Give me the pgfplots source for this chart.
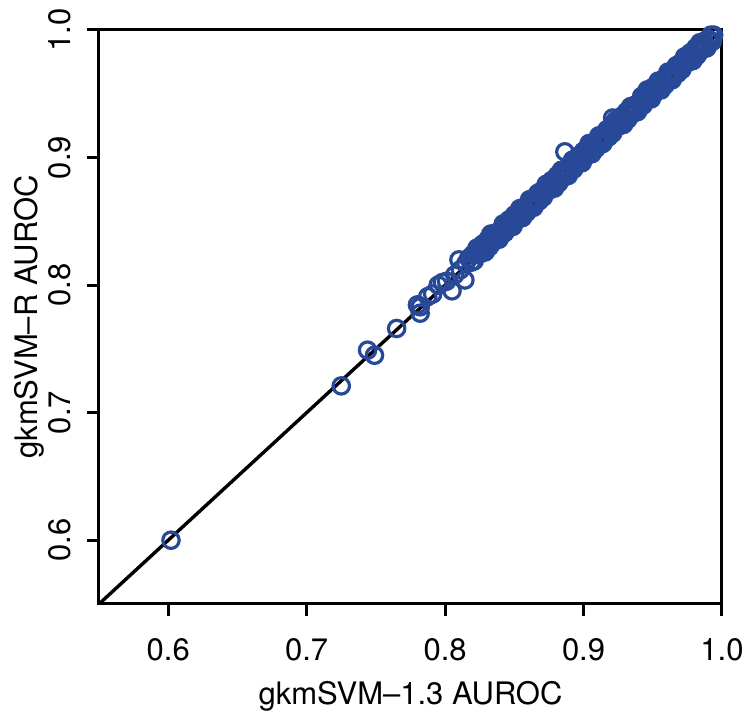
\documentclass[border=0pt]{standalone}
\usepackage{fontspec}
\setmainfont{TeX Gyre Heros}
\usepackage{pgfplots}
\pgfplotsset{compat=1.18}
\definecolor{ptblue}{RGB}{40,72,152}
\newcommand{\lbl}{\fontsize{15.5}{18}\selectfont}
\begin{document}
\begin{tikzpicture}
\begin{axis}[name=ax, scale only axis, width=311.5pt, height=287pt,
  xmin=0.55, xmax=1, ymin=0.55, ymax=1,
  axis line style={line width=1.5pt},
  tick style={line width=1.5pt, black},
  tick align=outside, major tick length=6pt,
  xtick pos=bottom, ytick pos=left,
  xtick={0.6,0.7,0.8,0.9,1.0}, ytick={0.6,0.7,0.8,0.9,1.0},
  xticklabels={0.6,0.7,0.8,0.9,1.0}, yticklabels={0.6,0.7,0.8,0.9,1.0},
  tick label style={font=\lbl, inner sep=0pt},
  xticklabel style={anchor=north},
  yticklabel style={rotate=90, anchor=south},
  xticklabel shift=11pt, yticklabel shift=8pt,
  /pgf/number format/assume math mode=true,
]
\addplot[only marks, mark=o, mark size=4.1pt, mark options={line width=1.6pt, draw=ptblue}]
table[row sep=\\] {x y\\
0.602 0.600\\ 0.725 0.721\\ 0.744 0.749\\ 0.749 0.745\\ 0.765 0.766\\
0.780 0.7845\\ 0.782 0.783\\ 0.782 0.778\\ 0.7875 0.791\\ 0.791 0.793\\
0.795 0.800\\ 0.798 0.802\\ 0.801 0.803\\ 0.805 0.7955\\ 0.807 0.808\\
0.810 0.8198\\ 0.811 0.812\\ 0.8143 0.804\\ 0.815 0.817\\ 0.817 0.821\\ 0.819 0.818\\
0.8865 0.9045\\ 0.921 0.931\\ 0.946 0.953\\ 0.904 0.911\\ 0.833 0.840\\
0.820 0.824\\ 0.821 0.819\\ 0.822 0.824\\ 0.823 0.829\\ 0.824 0.824\\ 0.825 0.828\\ 0.826 0.825\\ 0.827 0.832\\ 0.828 0.829\\ 0.829 0.826\\
0.830 0.831\\ 0.831 0.836\\ 0.832 0.830\\ 0.833 0.836\\ 0.834 0.840\\ 0.835 0.834\\ 0.836 0.838\\ 0.837 0.841\\ 0.838 0.838\\ 0.839 0.836\\
0.840 0.843\\ 0.841 0.841\\ 0.842 0.848\\ 0.843 0.841\\ 0.844 0.848\\ 0.845 0.846\\ 0.846 0.851\\ 0.847 0.846\\ 0.848 0.850\\ 0.849 0.846\\
0.850 0.855\\ 0.851 0.850\\ 0.852 0.855\\ 0.853 0.853\\ 0.854 0.860\\ 0.855 0.857\\ 0.856 0.853\\ 0.857 0.861\\ 0.858 0.859\\ 0.859 0.857\\
0.860 0.862\\ 0.861 0.867\\ 0.862 0.861\\ 0.863 0.867\\ 0.864 0.861\\ 0.865 0.868\\ 0.866 0.866\\ 0.867 0.872\\ 0.868 0.866\\ 0.869 0.870\\
0.870 0.874\\ 0.871 0.869\\ 0.872 0.874\\ 0.873 0.879\\ 0.874 0.874\\ 0.875 0.878\\ 0.876 0.875\\ 0.877 0.882\\ 0.878 0.879\\ 0.879 0.876\\
0.880 0.881\\ 0.881 0.886\\ 0.882 0.880\\ 0.883 0.886\\ 0.884 0.890\\ 0.885 0.884\\ 0.886 0.888\\ 0.887 0.891\\ 0.888 0.888\\ 0.889 0.886\\
0.890 0.893\\ 0.891 0.891\\ 0.892 0.898\\ 0.893 0.891\\ 0.894 0.898\\ 0.895 0.896\\ 0.896 0.901\\ 0.897 0.896\\ 0.898 0.900\\ 0.899 0.896\\
0.900 0.905\\ 0.901 0.900\\ 0.902 0.905\\ 0.903 0.903\\ 0.904 0.910\\ 0.905 0.907\\ 0.906 0.903\\ 0.907 0.911\\ 0.908 0.909\\ 0.909 0.907\\
0.910 0.912\\ 0.911 0.917\\ 0.912 0.911\\ 0.913 0.917\\ 0.914 0.911\\ 0.915 0.918\\ 0.916 0.916\\ 0.917 0.922\\ 0.918 0.916\\ 0.919 0.920\\
0.920 0.924\\ 0.921 0.919\\ 0.922 0.924\\ 0.923 0.929\\ 0.924 0.924\\ 0.925 0.928\\ 0.926 0.925\\ 0.927 0.932\\ 0.928 0.929\\ 0.929 0.926\\
0.930 0.931\\ 0.931 0.936\\ 0.932 0.930\\ 0.933 0.936\\ 0.934 0.940\\ 0.935 0.934\\ 0.936 0.938\\ 0.937 0.941\\ 0.938 0.938\\ 0.939 0.936\\
0.940 0.943\\ 0.941 0.941\\ 0.942 0.948\\ 0.943 0.941\\ 0.944 0.948\\ 0.945 0.946\\ 0.946 0.951\\ 0.947 0.946\\ 0.948 0.950\\ 0.949 0.946\\
0.950 0.955\\ 0.951 0.950\\ 0.952 0.955\\ 0.953 0.953\\ 0.954 0.960\\ 0.955 0.957\\ 0.956 0.953\\ 0.957 0.961\\ 0.958 0.959\\ 0.959 0.957\\
0.960 0.962\\ 0.961 0.967\\ 0.962 0.961\\ 0.963 0.967\\ 0.964 0.961\\ 0.965 0.968\\ 0.966 0.966\\ 0.967 0.972\\ 0.968 0.966\\ 0.969 0.970\\
0.970 0.974\\ 0.971 0.969\\ 0.972 0.974\\ 0.973 0.979\\ 0.974 0.974\\ 0.975 0.978\\ 0.976 0.975\\ 0.977 0.982\\ 0.978 0.979\\ 0.979 0.976\\
0.980 0.981\\ 0.981 0.986\\ 0.982 0.980\\ 0.983 0.986\\ 0.984 0.990\\ 0.985 0.984\\ 0.986 0.988\\ 0.987 0.991\\ 0.988 0.988\\ 0.989 0.986\\
0.990 0.993\\ 0.991 0.991\\ 0.992 0.996\\ 0.993 0.991\\ 0.994 0.996\\
};
\addplot[black, line width=1.7pt] coordinates {(0.55,0.55) (1,1)};
\end{axis}
\node[anchor=base, font=\lbl] at ([yshift=-50.5pt]ax.south) {gkmSVM--1.3 AUROC};
\node[anchor=base, rotate=90, font=\lbl] at ([xshift=-30.5pt]ax.west) {gkmSVM--R AUROC};
\pgfresetboundingbox
\path[use as bounding box] ([xshift=-49.5pt,yshift=-56.5pt]ax.south west) rectangle ([xshift=14pt,yshift=15pt]ax.north east);
\end{tikzpicture}
\end{document}
